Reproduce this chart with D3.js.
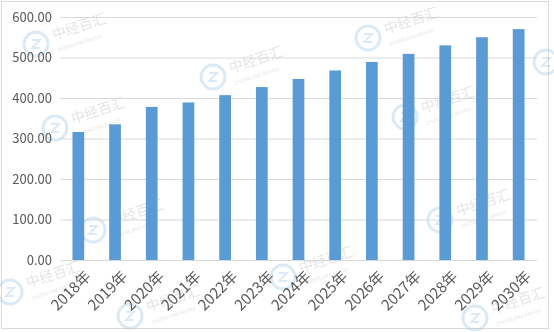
<!DOCTYPE html>
<html>
<head>
<meta charset="utf-8">
<script src="https://cdn.jsdelivr.net/npm/d3@7"></script>
<style>
  body { margin: 0; background: #fff; }
  text { font-family: "Noto Sans CJK SC", "DejaVu Sans", sans-serif; }
</style>
</head>
<body>
<div id="chart-area"></div>
<script>
// data
const years = ["2018年", "2019年", "2020年", "2021年", "2022年", "2023年", "2024年",
    "2025年", "2026年", "2027年", "2028年", "2029年", "2030年"];
const values = [316, 335, 378, 389, 407, 427, 447, 468, 489, 509, 530, 550, 570];
const yTicks = [0, 100, 200, 300, 400, 500, 600];

const W = 554, H = 332;
const margin = { top: 17, right: 17, bottom: 72, left: 60 };
const width = W - margin.left - margin.right;
const height = H - margin.top - margin.bottom;

const svg = d3.select("#chart-area").append("svg")
    .attr("width", W)
    .attr("height", H);

// chart border
svg.append("rect")
    .attr("x", 1.5).attr("y", 1.5)
    .attr("width", 547).attr("height", 327)
    .attr("fill", "#fff")
    .attr("stroke", "#d9d9d9");

// faint watermarks: [x, y, with name]
const marks = [[36, 44, true], [213, 77, true], [55, 128, true], [368, 38, true], [405, 117, true],
    [93, 230, true], [440, 220, true], [283, 277, true], [475, 318, true], [130, 316, true],
    [546, 62, false], [10, 292, true]];
const wm = svg.append("g").attr("opacity", 0.35);
marks.forEach(p => {
    const m = wm.append("g").attr("transform", "translate(" + p[0] + "," + p[1] + ")");
    m.append("circle").attr("r", 12).attr("fill", "none").attr("stroke", "#9cc3e6").attr("stroke-width", 3);
    m.append("path").attr("d", "M-4,-4H4L-4,4H4").attr("fill", "none")
        .attr("stroke", "#9cc3e6").attr("stroke-width", 2);
    if (!p[2]) return;
    m.append("text").attr("transform", "translate(18,-4) rotate(-18)")
        .attr("font-size", "14px").attr("fill", "#b0b0b0").text("中经百汇");
    m.append("text").attr("transform", "translate(22,8) rotate(-18)")
        .attr("font-size", "5px").attr("fill", "#b0b0b0").text("ZHONGJING BAIHUI");
});

const g = svg.append("g")
    .attr("transform", "translate(" + margin.left + "," + margin.top + ")");

const x = d3.scaleBand().domain(years).range([0, width]).paddingInner(0.68).paddingOuter(0.34);
const y = d3.scaleLinear().domain([0, 600]).range([height, 0]);

// gridlines + y labels
const leftAxis = d3.axisLeft(y).tickValues(yTicks).tickSize(-width)
    .tickFormat(d => d3.format(".2f")(d)).tickPadding(8);
g.append("g").attr("class", "left axis").call(leftAxis)
    .call(s => s.select(".domain").remove())
    .call(s => s.selectAll("line").attr("stroke", "#d9d9d9"))
    .call(s => s.selectAll("text").attr("fill", "#595959").attr("font-size", "13px"));

// bars
g.selectAll("rect.bar").data(values).enter()
    .append("rect")
    .attr("class", "bar")
    .attr("x", (d, i) => x(years[i]))
    .attr("y", d => y(d))
    .attr("width", x.bandwidth())
    .attr("height", d => height - y(d))
    .attr("fill", "#5b9bd5");

// x labels
g.append("g").selectAll("text").data(years).enter()
    .append("text")
    .attr("transform", d => "translate(" + (x(d) + x.bandwidth() / 2 + 6) + "," + (height + 10) + ") rotate(-45)")
    .attr("text-anchor", "end")
    .attr("dy", "0.7em")
    .attr("fill", "#595959")
    .attr("font-size", "15px")
    .text(d => d);
</script>
</body>
</html>
